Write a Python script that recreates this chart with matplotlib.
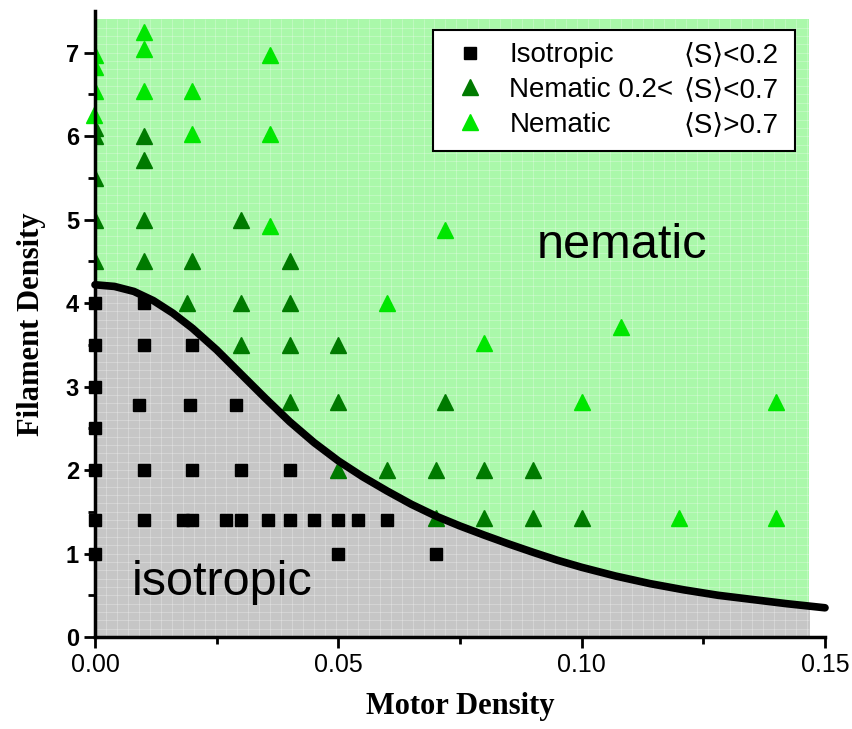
import numpy as np
import matplotlib
matplotlib.use("Agg")
import matplotlib.pyplot as plt
from matplotlib.lines import Line2D

# data
iso_x=[0,0.01, 0,0.01,0.02, 0, 0, 0.009,0.0195,0.029, 0,0.01,0.02,0.03,0.04,
       0,0.01,0.018,0.02,0.027,0.03,0.0355,0.04,0.045,0.05,0.054,0.06, 0,0.05,0.07]
iso_y=[4,4, 3.5,3.5,3.5, 3, 2.5, 2.78,2.78,2.78, 2,2,2,2,2,
       1.4,1.4,1.4,1.4,1.4,1.4,1.4,1.4,1.4,1.4,1.4,1.4, 1,1,1]

mid_x=[0,0,0,0,0, 0.01,0.01,0.01,0.01, 0.02, 0.019, 0.03,0.03,0.03,
       0.04,0.04,0.04,0.04, 0.05,0.05,0.05, 0.06, 0.07,0.07, 0.072, 0.08,0.08, 0.09,0.09, 0.10]
mid_y=[6.1,6.0,5.5,5.0,4.5, 6.0,5.72,5.0,4.5, 4.5, 4.0, 5.0,4.0,3.5,
       4.5,4.0,3.5,2.82, 3.5,2.82,2.0, 2.0, 2.0,1.42, 2.82, 2.0,1.42, 2.0,1.42, 1.42]

hi_x=[0,0,0, 0.01,0.01,0.01, 0.02,0.02, 0.036,0.036,0.036, 0.06, 0.072, 0.08, 0.10, 0.108, 0.12, 0.14,0.14]
hi_y=[6.97,6.83,6.54, 7.25,7.04,6.54, 6.54,6.03, 6.97,6.03,4.93, 4.0, 4.88, 3.52, 2.82, 3.72, 1.42, 2.82,1.42]
hi_edge_x=[-0.0003]
hi_edge_y=[6.25]

# phase boundary
bnd_x=[0,0.004,0.008,0.012,0.016,0.020,0.025,0.030,0.035,0.040,0.045,0.050,0.055,0.060,0.065,
       0.070,0.075,0.080,0.085,0.090,0.095,0.100,0.107,0.114,0.121,0.128,0.135,0.142,0.150]
bnd_y=[4.22,4.20,4.14,4.03,3.88,3.70,3.44,3.15,2.86,2.58,2.33,2.11,1.92,1.75,1.59,
       1.45,1.33,1.22,1.115,1.015,0.92,0.835,0.73,0.64,0.565,0.50,0.45,0.40,0.35]

xmax_fill=0.1467
ymax_fill=7.4

green='#aaf8aa'
grey='#c6c6c6'
dkgreen='#007a00'
ltgreen='#00e600'

# figure
fig=plt.figure(figsize=(8.52,7.29),dpi=100)
ax=fig.add_axes([95/852,92/729,730/852,626/729])
ax.set_xlim(0,0.15);ax.set_ylim(0,7.5)

# background regions
ax.fill_between([0,xmax_fill],0,ymax_fill,color=green,lw=0,zorder=0)
clip=plt.Rectangle((0,0),xmax_fill,ymax_fill,transform=ax.transData)
gfill=ax.fill_between(bnd_x,0,bnd_y,color=grey,lw=0,zorder=0.5)
gfill.set_clip_path(clip)

# faint texture grid
ax.vlines(np.arange(0.00225,xmax_fill,0.00225),0,ymax_fill,color='white',alpha=0.3,lw=0.6,zorder=1)
ax.hlines(np.arange(0.1,ymax_fill,0.1),0,xmax_fill,color='white',alpha=0.3,lw=0.6,zorder=1)

# markers
ax.plot(iso_x,iso_y,'s',color='black',ms=8.6,ls='none',zorder=2,clip_on=False)
ax.plot(mid_x,mid_y,'^',color=dkgreen,ms=11,ls='none',zorder=2)
ax.plot(hi_x,hi_y,'^',color=ltgreen,ms=11,ls='none',zorder=2)
ax.plot(hi_edge_x,hi_edge_y,'^',color=ltgreen,ms=11,ls='none',zorder=2.1,clip_on=False)

# boundary curve
ax.plot(bnd_x,bnd_y,color='black',lw=5.5,solid_capstyle='round',solid_joinstyle='round',zorder=3,clip_on=False)

# region labels
ax.text(0.0907,4.54,'nematic',fontsize=35,family='Liberation Sans',va='baseline',zorder=4)
ax.text(0.0076,0.50,'isotropic',fontsize=35,family='Liberation Sans',va='baseline',zorder=4)

# axes style
for s in ['top','right']:
    ax.spines[s].set_visible(False)
for s in ['left','bottom']:
    ax.spines[s].set_linewidth(2.5)
ax.set_xticks([0,0.05,0.10,0.15]);ax.set_xticklabels(['0.00','0.05','0.10','0.15'])
ax.set_xticks([0.025,0.075,0.125],minor=True)
ax.set_yticks(range(8));ax.set_yticks(np.arange(0.5,7.5,1),minor=True)
ax.tick_params(which='major',direction='out',length=8,width=2)
ax.tick_params(which='minor',direction='out',length=5,width=2)
for t in ax.get_xticklabels():
    t.set_fontfamily('Liberation Sans');t.set_fontsize(18)
for t in ax.get_yticklabels():
    t.set_fontfamily('Liberation Sans');t.set_fontsize(17);t.set_fontweight('bold')
ax.set_xlabel('Motor Density',family='Liberation Serif',fontweight='bold',fontsize=22,labelpad=11)
ax.set_ylabel('Filament Density',family='Liberation Serif',fontweight='bold',fontsize=22,labelpad=14)

# legend
handles=[Line2D([],[],marker='s',color='black',ls='none',ms=8.6),
         Line2D([],[],marker='^',color=dkgreen,ls='none',ms=11),
         Line2D([],[],marker='^',color=ltgreen,ls='none',ms=11)]
leg=ax.legend(handles,['Isotropic','Nematic 0.2<','Nematic'],loc='upper left',
              bbox_to_anchor=(0.463,0.778,0.496,0.192),mode='expand',borderaxespad=0,
              prop={'family':'Liberation Sans','size':20},frameon=True,fancybox=False,
              edgecolor='black',framealpha=1,borderpad=0.45,labelspacing=0.32,
              handlelength=1.8,handletextpad=0.5)
leg.get_frame().set_linewidth(1.5)
leg.set_zorder(5)

fig.canvas.draw()
xr=(684-95)/730
for t,s in zip(leg.get_texts(),['\u27e8S\u27e9<0.2','\u27e8S\u27e9<0.7','\u27e8S\u27e9>0.7']):
    p=t.get_transform().transform(t.get_position())
    pa=ax.transAxes.inverted().transform(p)
    ax.text(xr,pa[1],s,transform=ax.transAxes,fontsize=20,family=['Liberation Sans','DejaVu Sans'],
            va='baseline',zorder=6)

fig.savefig('out.png',dpi=100)
